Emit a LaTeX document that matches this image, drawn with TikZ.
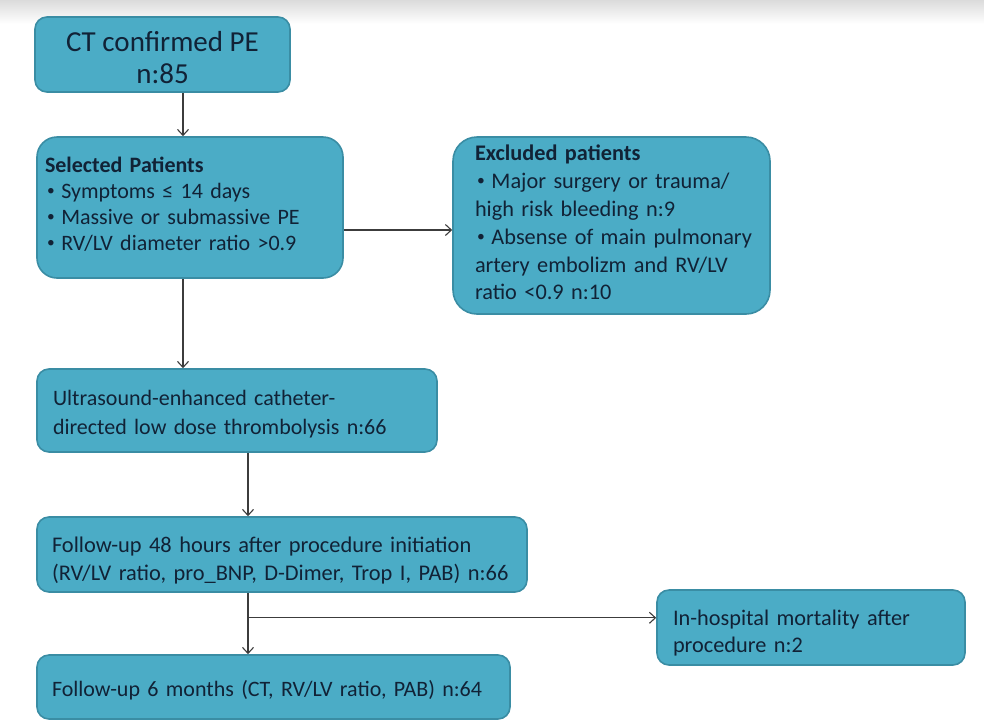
\documentclass[tikz,border=0pt]{standalone}
\usepackage{fontspec}
\setmainfont{Carlito}
\usetikzlibrary{arrows.meta}
\definecolor{boxfill}{HTML}{4BACC6}
\definecolor{boxline}{HTML}{3A8DA4}
\definecolor{boxtext}{HTML}{112236}
\definecolor{linkgray}{HTML}{3C3C3C}
% small list bullet
\newcommand\bul{\raisebox{0.12em}{\scalebox{0.7}{•}}\hspace{0.3em}}
% extra height on a first line, to lower the text block a little
\newcommand\lowerby[1]{\rule{0pt}{#1}}
% extra depth on a last line, to raise the text block a little
\newcommand\raiseby[1]{\rule[-#1]{0pt}{1pt}}
\begin{document}
\begin{tikzpicture}[x=1pt,y=-1pt,
  flowbox/.style={draw=boxline, fill=boxfill, line width=1.6pt,
    rounded corners=12pt, text=boxtext, align=left, inner ysep=0pt},
  link/.style={draw=linkgray, line width=1.2pt,
    -{Straight Barb[length=6pt,width=11pt,line width=1.1pt]}}]
\useasboundingbox (0,0) rectangle (984,721);
% faint header band
\shade[top color=black!14, bottom color=white] (0,0) rectangle (984,24);

% boxes
\node[flowbox, align=center, minimum width=255pt, minimum height=75pt,
  font=\fontsize{29}{32}\selectfont] (ct) at (162.5,54.5)
  {\lowerby{26pt}CT confirmed PE\\n:85};

\node[flowbox, rounded corners=20pt, text width=290pt, inner xsep=8pt,
  minimum height=141pt, font=\fontsize{22}{26}\selectfont] (sel) at (190,207.5)
  {\textbf{Selected Patients}\\
   \hspace{2pt}\bul Symptoms ≤ 14 days\\
   \hspace{2pt}\bul Massive or submassive PE\\
   \hspace{2pt}\bul RV/LV diameter ratio >0.9\raiseby{8pt}};

\node[flowbox, rounded corners=24pt, text width=295pt, inner xsep=11pt,
  minimum height=177pt, font=\fontsize{22.3}{27.8}\selectfont] (exc) at (611.5,225.5)
  {\hspace{11pt}\textbf{Excluded patients}\\
   \hspace{11pt}\hspace{2pt}\bul Major surgery or trauma/\\
   \hspace{11pt}high risk bleeding n:9\\
   \hspace{11pt}\hspace{2pt}\bul Absense of main pulmonary\\
   \hspace{11pt}artery embolizm and RV/LV\\
   \hspace{11pt}ratio <0.9 n:10\raiseby{6pt}};

\node[flowbox, text width=368pt, inner xsep=16pt, minimum height=83pt,
  font=\fontsize{22}{28.5}\selectfont] (us) at (237,410.5)
  {\lowerby{23pt}Ultrasound-enhanced catheter-\\directed low dose thrombolysis n:66};

\node[flowbox, text width=460pt, inner xsep=15pt, minimum height=75pt,
  font=\fontsize{22.4}{28}\selectfont] (fu48) at (282,554.5)
  {\lowerby{28pt}Follow-up 48 hours after procedure initiation\\(RV/LV ratio, pro\_BNP, D-Dimer, Trop I, PAB) n:66};

\node[flowbox, text width=443pt, inner xsep=15pt, minimum height=64pt,
  font=\fontsize{22}{28}\selectfont] (fu6) at (273.5,687)
  {\lowerby{22pt}Follow-up 6 months (CT, RV/LV ratio, PAB) n:64};

\node[flowbox, text width=276pt, inner xsep=16pt, minimum height=75pt,
  font=\fontsize{22.3}{27}\selectfont] (hosp) at (811,627.5)
  {\lowerby{26pt}In-hospital mortality after\\procedure n:2};

% connectors
\draw[link] ([xshift=20.5pt]ct.south) -- ([xshift=-7pt]sel.north);
\draw[link] ([yshift=-22.5pt]sel.east) -- ([yshift=-22.5pt]sel.east -| exc.west);
\draw[link] ([xshift=-7pt]sel.south) -- ([xshift=-54pt]us.north);
\draw[link] ([xshift=11pt]us.south) -- ([xshift=-34pt]fu48.north);
\draw[link] ([xshift=-34pt]fu48.south) -- ([xshift=-25.5pt]fu6.north);
\coordinate (branch) at ([xshift=-34pt,yshift=-25pt]fu48.south);
\draw[link] (branch) -- (branch -| hosp.west);
\end{tikzpicture}
\end{document}
